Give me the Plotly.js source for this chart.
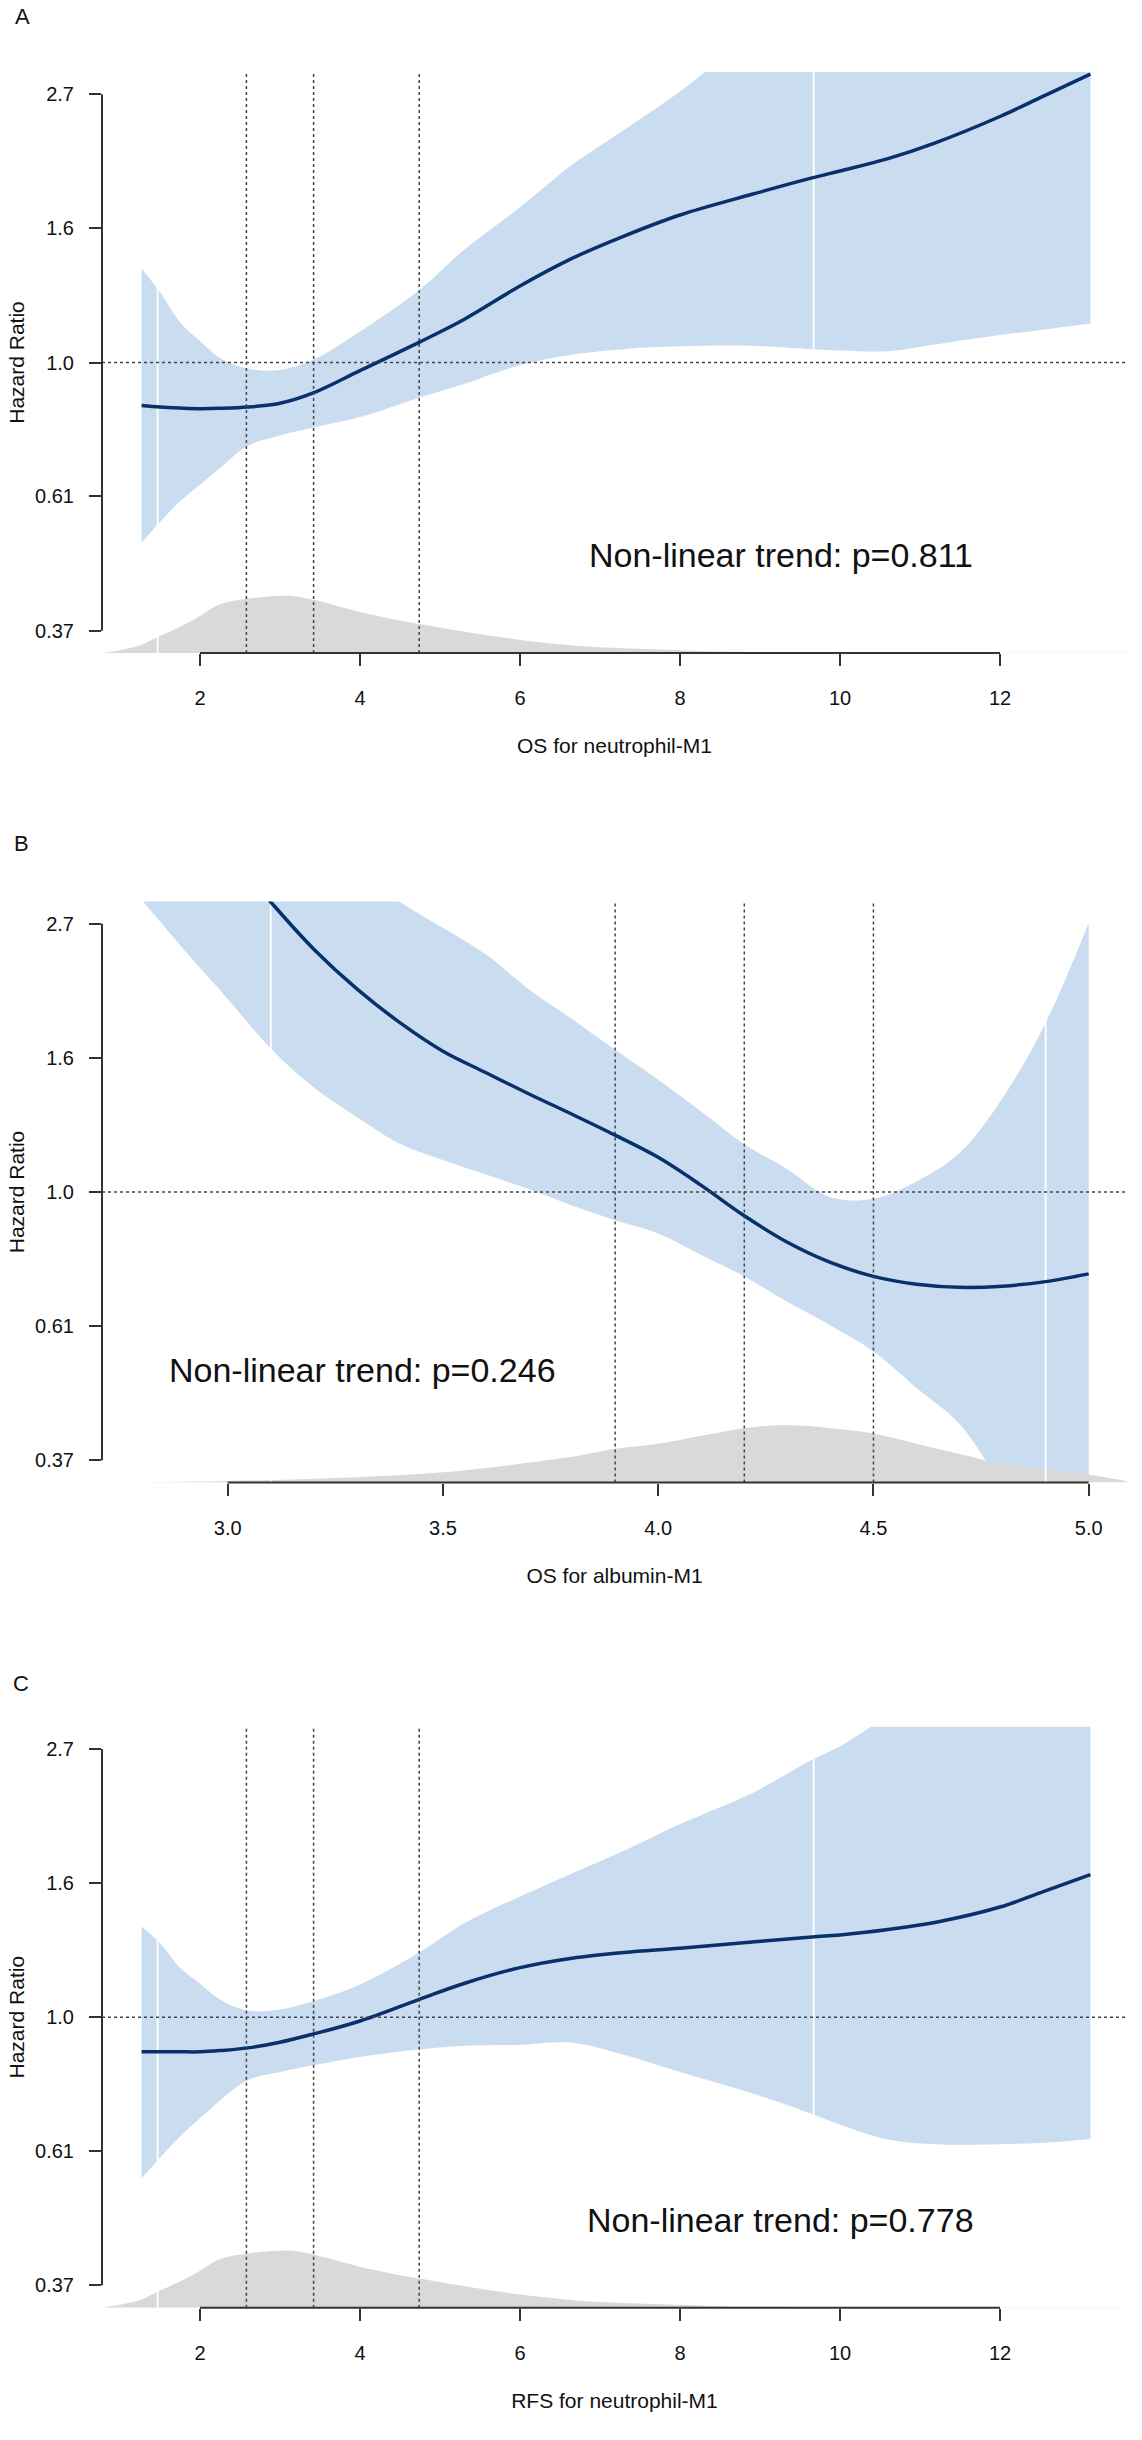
<!DOCTYPE html>
<html>
<head>
<meta charset="utf-8">
<script src="https://cdn.plot.ly/plotly-3.0.1.min.js"></script>
<style>html,body{margin:0;padding:0;background:#fff;}</style>
</head>
<body>
<div id="chart" style="width:1142px;height:2440px;"></div>
<script>
// ---------------- DATA ----------------
// neutrophil-M1 grid (panels A and C)
const neutX = [1.27, 1.5, 1.75, 2.0, 2.25, 2.6, 3.0, 3.4, 4.0, 4.75, 5.3, 6.0, 6.65, 7.3, 8.0, 8.9, 9.65, 10.0, 10.6, 11.2, 12.0, 12.55, 13.13];
// A: OS for neutrophil-M1 (hazard ratio, upper / lower 95% CI)
const osNeutHR    = [0.852, 0.847, 0.844, 0.842, 0.843, 0.847, 0.859, 0.891, 0.970, 1.080, 1.174, 1.330, 1.474, 1.602, 1.733, 1.872, 1.990, 2.042, 2.138, 2.270, 2.502, 2.702, 2.930];
const osNeutUpper = [1.420, 1.300, 1.162, 1.083, 1.017, 0.977, 0.972, 1.008, 1.123, 1.313, 1.522, 1.784, 2.090, 2.380, 2.746, 3.387, 3.857, 4.055, 4.393, 4.711, 5.053, 5.366, 5.755];
const osNeutLower = [0.511, 0.552, 0.596, 0.634, 0.675, 0.733, 0.762, 0.784, 0.816, 0.878, 0.923, 0.990, 1.029, 1.051, 1.062, 1.064, 1.051, 1.046, 1.043, 1.070, 1.108, 1.130, 1.156];
// C: RFS for neutrophil-M1
const rfsNeutHR    = [0.879, 0.879, 0.879, 0.879, 0.883, 0.892, 0.911, 0.938, 0.986, 1.070, 1.134, 1.203, 1.246, 1.273, 1.293, 1.323, 1.349, 1.359, 1.387, 1.425, 1.508, 1.598, 1.701];
const rfsNeutUpper = [1.402, 1.318, 1.203, 1.133, 1.068, 1.025, 1.029, 1.060, 1.130, 1.275, 1.419, 1.568, 1.709, 1.859, 2.054, 2.305, 2.612, 2.746, 3.065, 3.320, 3.669, 3.896, 4.137];
const rfsNeutLower = [0.548, 0.592, 0.641, 0.686, 0.733, 0.791, 0.815, 0.835, 0.862, 0.887, 0.899, 0.902, 0.909, 0.869, 0.815, 0.753, 0.697, 0.670, 0.634, 0.623, 0.623, 0.626, 0.635];
// B: OS for albumin-M1
const albX = [2.8, 2.9, 3.0, 3.1, 3.2, 3.3, 3.4, 3.5, 3.6, 3.7, 3.8, 3.9, 4.0, 4.1, 4.2, 4.3, 4.4, 4.5, 4.6, 4.7, 4.8, 4.9, 5.0];
const osAlbHR    = [5.474, 4.393, 3.561, 2.948, 2.472, 2.132, 1.880, 1.690, 1.560, 1.441, 1.336, 1.236, 1.138, 1.025, 0.915, 0.829, 0.769, 0.730, 0.709, 0.701, 0.704, 0.716, 0.737];
const osAlbUpper = [6.686, 5.755, 4.953, 4.263, 3.743, 3.320, 2.948, 2.678, 2.423, 2.128, 1.906, 1.699, 1.520, 1.350, 1.195, 1.089, 0.981, 0.975, 1.040, 1.156, 1.420, 1.880, 2.729];
const osAlbLower = [2.974, 2.460, 2.054, 1.707, 1.477, 1.323, 1.197, 1.127, 1.067, 1.010, 0.951, 0.900, 0.857, 0.791, 0.730, 0.664, 0.608, 0.552, 0.482, 0.421, 0.333, 0.259, 0.202];
// distribution of the exposure (relative density, % of peak)
const neutDensX = [0.78, 1.0, 1.27, 1.47, 1.78, 2.0, 2.24, 2.59, 2.96, 3.15, 3.43, 4.0, 4.5, 4.74, 5.33, 6.0, 6.6, 7.0, 8.0, 8.5, 9.5, 11.0, 13.59];
const neutDens  = [0, 5, 14.5, 28, 48, 65, 85, 95, 100, 100, 93, 72, 57, 51, 37, 23, 14, 10, 5, 2.5, 1.2, 0.6, 0.3];
const albDensX = [2.708, 2.8, 3.0, 3.25, 3.5, 3.8, 3.9, 4.0, 4.1, 4.2, 4.27, 4.35, 4.4, 4.5, 4.6, 4.7, 4.8, 4.9, 5.0, 5.089];
const albDens  = [0, 0.5, 2.7, 8, 18, 45, 59, 68, 82, 95, 100, 99, 95, 86, 68, 50, 33, 23, 14, 2];
// reference (dotted) lines
const neutRefLines = [2.58, 3.42, 4.74];
const albRefLines  = [3.9, 4.2, 4.5];
const hrRefLine = 1.0;
// thin white seams visible in the reference polygons
const neutSeams = [1.47, 9.67];
const albSeams  = [3.1, 4.9];
// tick labels
const neutTicks = [2, 4, 6, 8, 10, 12];
const neutTickText = ['2', '4', '6', '8', '10', '12'];
const albTicks = [3.0, 3.5, 4.0, 4.5, 5.0];
const albTickText = ['3.0', '3.5', '4.0', '4.5', '5.0'];
const hrTickVals = [0.368, 0.607, 1.0, 1.649, 2.718];
const hrTickText = ['0.37', '0.61', '1.0', '1.6', '2.7'];
const pTexts = ['Non-linear trend: p=0.811', 'Non-linear trend: p=0.246', 'Non-linear trend: p=0.778'];
const xTitles = ['OS for neutrophil-M1', 'OS for albumin-M1', 'RFS for neutrophil-M1'];
const panelLabels = ['A', 'B', 'C'];

// ---------------- STYLE / LAYOUT ----------------
const FONT = '"Liberation Sans", Arial, Helvetica, sans-serif';
const BAND = '#cadcf0';
const CURVE = '#08306b';
const DENS = '#d9d9d9';
const AXC = '#333333';
const W = 1142, H = 2440;
const yLogRange = [-0.4703, 0.4703];
const densMax = 1019;
const xDomain = [102 / W, 1127 / W];
// fraction of the y domain for a hazard-ratio value
const yFrac = v => (Math.log10(v) - yLogRange[0]) / (yLogRange[1] - yLogRange[0]);

const panels = [
  {xs: neutX, fit: osNeutHR, up: osNeutUpper, lo: osNeutLower, dx: neutDensX, dy: neutDens,
   ref: neutRefLines, seams: neutSeams, ticks: neutTicks, tickText: neutTickText,
   xRange: [0.775, 13.5875], top: 72, bottom: 653, labelPos: [22, 16], pPos: [9.26, 0.488]},
  {xs: albX, fit: osAlbHR, up: osAlbUpper, lo: osAlbLower, dx: albDensX, dy: albDens,
   ref: albRefLines, seams: albSeams, ticks: albTicks, tickText: albTickText,
   xRange: [2.708, 5.089], top: 901.5, bottom: 1482.5, labelPos: [21, 844], pPos: [3.313, 0.515]},
  {xs: neutX, fit: rfsNeutHR, up: rfsNeutUpper, lo: rfsNeutLower, dx: neutDensX, dy: neutDens,
   ref: neutRefLines, seams: neutSeams, ticks: neutTicks, tickText: neutTickText,
   xRange: [0.775, 13.5875], top: 1726.7, bottom: 2307.7, labelPos: [21, 1683], pPos: [9.25, 0.470]}
];

const ref = (l, n) => n === 1 ? l : l + n;
const key = (l, n) => n === 1 ? l + 'axis' : l + 'axis' + n;

const data = [];
const layout = {
  width: W, height: H, autosize: false,
  margin: {l: 0, r: 0, t: 0, b: 0},
  paper_bgcolor: '#ffffff', plot_bgcolor: 'rgba(0,0,0,0)',
  showlegend: false,
  font: {family: FONT, color: '#111111'},
  shapes: [], annotations: []
};

panels.forEach((p, i) => {
  const xn = i + 1, yb = 3 * i + 1, yd = 3 * i + 2, yc = 3 * i + 3;
  const xr = ref('x', xn), ybr = ref('y', yb), ydr = ref('y', yd), ycr = ref('y', yc);
  const common = {xaxis: xr, hoverinfo: 'skip', showlegend: false};

  // confidence band
  data.push(Object.assign({x: p.xs, y: p.lo, yaxis: ybr, mode: 'lines',
    line: {width: 0, shape: 'spline', color: BAND}}, common));
  data.push(Object.assign({x: p.xs, y: p.up, yaxis: ybr, mode: 'lines', fill: 'tonexty', fillcolor: BAND,
    line: {width: 0, shape: 'spline', color: BAND}}, common));
  // density of exposure
  data.push(Object.assign({x: p.dx, y: p.dy, yaxis: ydr, mode: 'lines', fill: 'tozeroy', fillcolor: DENS,
    line: {width: 0, shape: 'spline', color: DENS}}, common));
  // white seams
  const sx = [], sy = [];
  p.seams.forEach(s => { sx.push(s, s, null); sy.push(0, densMax, null); });
  data.push(Object.assign({x: sx, y: sy, yaxis: ydr, mode: 'lines',
    line: {width: 1.8, color: '#ffffff'}}, common));
  // fitted hazard ratio
  data.push(Object.assign({x: p.xs, y: p.fit, yaxis: ycr, mode: 'lines',
    line: {width: 3.5, shape: 'spline', color: CURVE}}, common));

  const yDomain = [1 - p.bottom / H, 1 - p.top / H];
  layout[key('x', xn)] = {
    domain: xDomain, range: p.xRange, anchor: ybr,
    tickmode: 'array', tickvals: p.ticks, ticktext: p.tickText,
    ticks: 'outside', ticklen: 12, tickwidth: 2, tickcolor: AXC,
    showline: false, showgrid: false, zeroline: false,
    tickfont: {family: FONT, size: 20, color: '#111111'},
    ticklabelstandoff: 15,
    title: {text: xTitles[i], font: {family: FONT, size: 21, color: '#111111'}, standoff: 30},
    fixedrange: true
  };
  layout[key('y', yb)] = {
    domain: yDomain, type: 'log', range: yLogRange, anchor: xr,
    tickmode: 'array', tickvals: hrTickVals, ticktext: hrTickText,
    ticks: 'outside', ticklen: 12, tickwidth: 2, tickcolor: AXC,
    showline: false, showgrid: false, zeroline: false,
    tickfont: {family: FONT, size: 20, color: '#111111'},
    ticklabelstandoff: 11,
    title: {text: 'Hazard Ratio', font: {family: FONT, size: 21, color: '#111111'}, standoff: 4},
    fixedrange: true
  };
  layout[key('y', yd)] = {overlaying: ybr, anchor: xr, range: [0, densMax], visible: false, fixedrange: true};
  layout[key('y', yc)] = {overlaying: ybr, anchor: xr, type: 'log', range: yLogRange, visible: false, fixedrange: true};

  // dotted reference lines
  p.ref.forEach(q => layout.shapes.push({type: 'line', layer: 'above', xref: xr, yref: ybr + ' domain',
    x0: q, x1: q, y0: 0, y1: 1, line: {color: '#444444', width: 1.5, dash: 'dot'}}));
  layout.shapes.push({type: 'line', layer: 'above', xref: xr + ' domain', yref: ybr + ' domain',
    x0: 0, x1: 1, y0: yFrac(hrRefLine), y1: yFrac(hrRefLine), line: {color: '#444444', width: 1.5, dash: 'dot'}});
  // axis lines spanning first..last tick (R style)
  layout.shapes.push({type: 'line', layer: 'above', xref: xr, yref: ybr + ' domain',
    x0: p.ticks[0], x1: p.ticks[p.ticks.length - 1], y0: 0, y1: 0, line: {color: AXC, width: 2}});
  layout.shapes.push({type: 'line', layer: 'above', xref: xr + ' domain', yref: ybr + ' domain',
    x0: 0, x1: 0, y0: yFrac(hrTickVals[0]), y1: yFrac(hrTickVals[hrTickVals.length - 1]),
    line: {color: AXC, width: 2}});

  // panel label
  layout.annotations.push({text: panelLabels[i], xref: 'paper', yref: 'paper',
    x: p.labelPos[0] / W, y: 1 - p.labelPos[1] / H, xanchor: 'center', yanchor: 'middle',
    showarrow: false, font: {family: FONT, size: 22, color: '#111111'}});
  // p-value text
  layout.annotations.push({text: pTexts[i], xref: xr, yref: ybr,
    x: p.pPos[0], y: Math.log10(p.pPos[1]), xanchor: 'center', yanchor: 'middle',
    showarrow: false, font: {family: FONT, size: 34, color: '#111111'}});
});

Plotly.newPlot('chart', data, layout, {staticPlot: true, displayModeBar: false});
</script>
</body>
</html>
